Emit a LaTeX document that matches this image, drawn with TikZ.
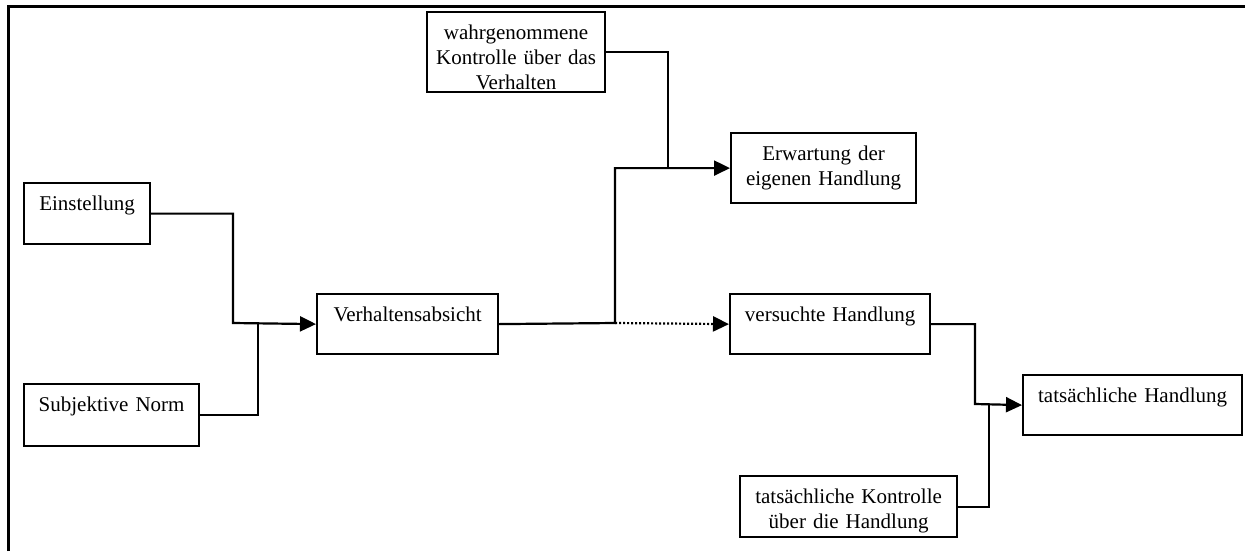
\documentclass[tikz,border=0pt]{standalone}
\usepackage{fontspec}
\setmainfont{Liberation Serif}
\usetikzlibrary{positioning,arrows.meta}

\begin{document}
\begin{tikzpicture}[x=0.5pt,y=-0.5pt,>={Triangle[length=8pt,width=7.5pt]},
  box/.style={draw,line width=1.1pt,inner xsep=0pt,inner ysep=4pt,text height=9.5pt,
    align=center,anchor=north west,font=\fontsize{10.5}{12.5}\selectfont},
  link/.style={line width=1.1pt}]
\useasboundingbox (0,0) rectangle (1245,551);
\draw[line width=1.5pt] (8,551) -- (8,7) -- (1245,7);
% boxes
\node[box,text width=63pt,text depth=13pt] (ein) at (23,182) {Einstellung};
\node[box,text width=87.5pt,text depth=13.5pt] (norm) at (23,383) {Subjektive Norm};
\node[box,text width=90.5pt,text depth=12.5pt] (absicht) at (316,293) {Verhaltensabsicht};
\node[box,text width=89pt,text depth=22.5pt] (wkontr) at (426,11) {wahrgenommene\\Kontrolle über das\\Verhalten};
\node[box,text width=92.5pt,text depth=17.5pt] (erw) at (730,132) {Erwartung der\\eigenen Handlung};
\node[box,text width=100pt,text depth=12.5pt] (versuch) at (729,293) {versuchte Handlung};
\node[box,text width=109.5pt,text depth=12.5pt] (handl) at (1022,374) {tatsächliche Handlung};
\node[box,text width=108.5pt,text depth=13pt] (tkontr) at (739,475) {tatsächliche Kontrolle\\über die Handlung};
% junctions
\coordinate (j1) at (233,323);
\coordinate (j2) at (258,323);
\coordinate (j3) at (615,323);
\coordinate (j4) at (668,167);
\coordinate (j5) at (975,404);
\coordinate (j6) at (989,404);
% connectors
\draw[link,->] (ein.east) -| (j1) -- (absicht.west);
\draw[link] (norm.east) -| (j2);
\draw[link,->] (absicht.east) -- (j3) |- (erw.west);
\draw[link] (wkontr.east) -| (j4);
\draw[link,->,dash pattern=on 1pt off 1pt] (j3) -- (versuch.west);
\draw[link,->] (versuch.east) -| (j5) -- (handl.west);
\draw[link] (tkontr.east) -| (j6);
\end{tikzpicture}
\end{document}
